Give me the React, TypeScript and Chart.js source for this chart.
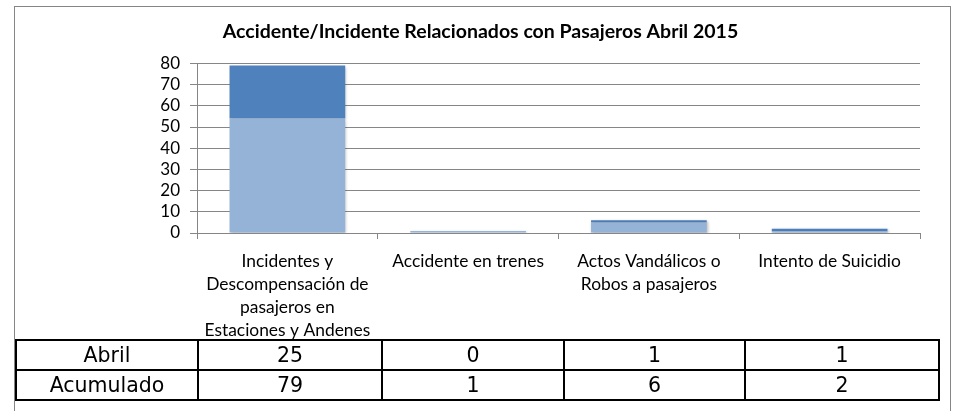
import React, { useEffect, useRef } from "react";
import { Chart, registerables } from "chart.js";

Chart.register(...registerables);

const title = "Accidente/Incidente Relacionados con Pasajeros Abril 2015";
const categories: string[][] = [
  ["Incidentes y", "Descompensación de", "pasajeros en", "Estaciones y Andenes"],
  ["Accidente en trenes"],
  ["Actos Vandálicos o", "Robos a pasajeros"],
  ["Intento de Suicidio"],
];
const seriesNames = ["Abril", "Acumulado"];
const abril = [25, 0, 1, 1];
const acumulado = [79, 1, 6, 2];
const yMin = 0;
const yMax = 80;
const yStep = 10;

const shadowPlugin = {
  id: "barShadow",
  beforeDatasetDraw(chart: any) {
    const ctx = chart.ctx;
    ctx.save();
    ctx.shadowColor = "rgba(0,0,0,0.28)";
    ctx.shadowBlur = 3;
    ctx.shadowOffsetX = 1;
    ctx.shadowOffsetY = 1;
  },
  afterDatasetDraw(chart: any) {
    chart.ctx.restore();
  },
};

export default function App() {
  const ref = useRef<HTMLCanvasElement>(null);

  useEffect(() => {
    if (!ref.current) return;
    const previous = acumulado.map((v, i) => v - abril[i]);
    const chart = new Chart(ref.current, {
      type: "bar",
      data: {
        labels: categories,
        datasets: [
          {
            label: "Anterior",
            data: previous,
            backgroundColor: "#95B3D7",
            borderWidth: 0,
          },
          {
            label: seriesNames[0],
            data: abril,
            backgroundColor: "#4F81BD",
            borderWidth: 0,
          },
        ],
      },
      options: {
        animation: false,
        responsive: false,
        maintainAspectRatio: false,
        layout: { padding: { left: 41, right: 34, top: 0, bottom: 0 } },
        datasets: {
          bar: { barPercentage: 0.64, categoryPercentage: 1 },
        },
        plugins: {
          legend: { display: false },
          tooltip: { enabled: false },
          title: {
            display: true,
            text: title,
            color: "#000",
            font: { family: "Lato", size: 19.5, weight: "bold", lineHeight: 1.2 },
            padding: { top: 20, bottom: 20 },
          },
        },
        scales: {
          x: {
            stacked: true,
            offset: true,
            grid: {
              display: true,
              offset: true,
              drawOnChartArea: false,
              drawTicks: true,
              tickLength: 6,
              color: "#868686",
            },
            border: { display: true, color: "#868686" },
            ticks: {
              color: "#000",
              maxRotation: 0,
              autoSkip: false,
              padding: 11,
              font: { family: "Lato", size: 17.4, lineHeight: 1.32 },
            },
            afterFit(scale: any) {
              scale.height = 107;
            },
          },
          y: {
            stacked: true,
            min: yMin,
            max: yMax,
            ticks: {
              stepSize: yStep,
              autoSkip: false,
              color: "#000",
              padding: 10,
              font: { family: "Lato", size: 17 },
            },
            grid: { color: "#868686", tickLength: 7 },
            border: { display: true, color: "#868686" },
            afterFit(scale: any) {
              scale.width = 156;
            },
          },
        },
      },
      plugins: [shadowPlugin],
    });
    return () => chart.destroy();
  }, []);

  const colW = [182, 184, 182, 181, 194];
  const rows = [
    { name: seriesNames[0], values: abril },
    { name: seriesNames[1], values: acumulado },
  ];

  const cell: React.CSSProperties = {
    border: "2px solid #000",
    textAlign: "center",
    padding: 0,
    lineHeight: "26px",
  };

  return (
    <div
      style={{
        position: "fixed",
        left: 0,
        top: 0,
        width: 954,
        height: 411,
        background: "#fff",
        overflow: "hidden",
      }}
    >
      <div
        style={{
          position: "absolute",
          left: 14,
          top: 6,
          width: 937,
          height: 420,
          border: "1px solid #868686",
          boxSizing: "border-box",
        }}
      />
      <canvas
        ref={ref}
        width={954}
        height={340}
        style={{ position: "absolute", left: 0, top: 0, width: 954, height: 340 }}
      />
      <table
        style={{
          position: "absolute",
          left: 15,
          top: 339,
          borderCollapse: "collapse",
          tableLayout: "fixed",
          fontFamily: "'DejaVu Sans', sans-serif",
          fontSize: 20.5,
          color: "#000",
        }}
      >
        <colgroup>
          {colW.map((w, i) => (
            <col key={i} style={{ width: w }} />
          ))}
        </colgroup>
        <tbody>
          {rows.map((r) => (
            <tr key={r.name} style={{ height: 30 }}>
              <td style={cell}>{r.name}</td>
              {r.values.map((v, i) => (
                <td key={i} style={cell}>
                  {v}
                </td>
              ))}
            </tr>
          ))}
        </tbody>
      </table>
    </div>
  );
}
